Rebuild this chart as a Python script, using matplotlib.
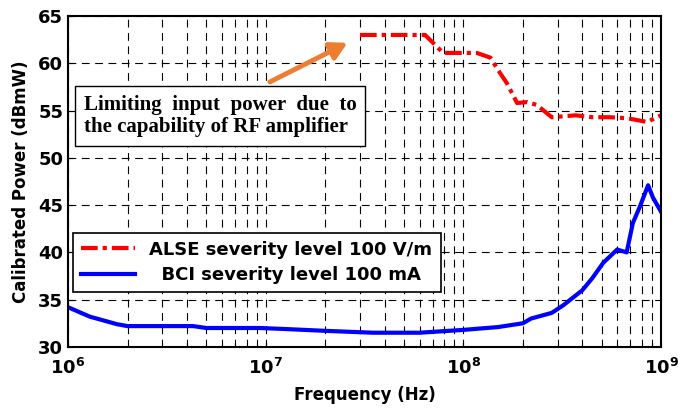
import matplotlib
matplotlib.use('Agg')
import matplotlib.pyplot as plt
import numpy as np

plt.rcParams['font.family'] = ['DejaVu Sans']
plt.rcParams['font.weight'] = 'bold'
plt.rcParams['mathtext.fontset'] = 'dejavusans'
plt.rcParams['mathtext.default'] = 'bf'

# ALSE curve (red, dash-dot)
alse_freq = [3.0e7, 6.4e7, 7.0e7, 7.9e7, 1.17e8, 1.37e8, 1.53e8, 1.66e8, 1.87e8,
             2.1e8, 2.35e8, 2.8e8, 3.7e8, 4.5e8, 5.5e8, 6.7e8, 8.5e8, 1.0e9]
alse_power = [63.0, 63.0, 62.2, 61.1, 61.1, 60.6, 59.0, 57.9, 55.8,
              55.9, 55.6, 54.3, 54.5, 54.3, 54.3, 54.2, 53.8, 54.5]

# BCI curve (blue, solid)
bci_freq = [1.0e6, 1.29e6, 1.77e6, 2.0e6, 4.3e6, 5.0e6, 9.3e6, 1.23e7, 2.0e7, 3.5e7,
            6.0e7, 1.0e8, 1.5e8, 2.0e8, 2.2e8, 2.8e8, 3.2e8, 4.0e8, 4.5e8, 5.1e8,
            6.0e8, 6.7e8, 7.2e8, 7.8e8, 8.6e8, 9.1e8, 1.0e9]
bci_power = [34.2, 33.2, 32.4, 32.2, 32.2, 32.0, 32.0, 31.9, 31.7, 31.5,
             31.5, 31.8, 32.1, 32.5, 33.0, 33.6, 34.4, 36.0, 37.3, 38.9,
             40.3, 40.0, 43.1, 44.8, 47.1, 45.8, 44.3]

xticks = [1e6, 1e7, 1e8, 1e9]
xtick_labels = [r'$10^{6}$', r'$10^{7}$', r'$10^{8}$', r'$10^{9}$']
yticks = [30, 35, 40, 45, 50, 55, 60, 65]

fig = plt.figure(figsize=(6.78, 4.12), dpi=100)
ax = fig.add_axes([0.1003, 0.158, 0.8747, 0.803])

ax.plot(alse_freq, alse_power, color='red', linestyle=(0, (4, 1.2, 1, 1.2)),
        linewidth=3, label='ALSE severity level 100 V/m')
ax.plot(bci_freq, bci_power, color='blue', linewidth=3,
        label='  BCI severity level 100 mA')

ax.set_xscale('log')
ax.set_xlim(1e6, 1e9)
ax.set_ylim(30, 65)
ax.set_xticks(xticks, xtick_labels)
ax.set_yticks(yticks)
ax.tick_params(axis='both', which='both', direction='in', labelsize=13)
ax.tick_params(axis='x', pad=8)
ax.grid(True, which='major', color='black', linestyle=(0, (7, 5)), linewidth=0.8)
ax.grid(True, which='minor', axis='x', color='black', linestyle=(0, (7, 5)), linewidth=0.8)
for s in ax.spines.values():
    s.set_linewidth(1.5)

ax.set_xlabel('Frequency (Hz)', fontsize=12, fontweight='bold', labelpad=6)
ax.set_ylabel('Calibrated Power (dBmW)', fontsize=12, fontweight='bold', labelpad=6)

leg = ax.legend(loc='lower left', bbox_to_anchor=(0.008, 0.166), fontsize=13,
                frameon=True, fancybox=False, edgecolor='black', framealpha=1,
                handlelength=3.0, borderpad=0.45, labelspacing=0.4, borderaxespad=0)
leg.get_frame().set_linewidth(1.2)
for t in leg.get_texts():
    t.set_fontweight('bold')

# note box with arrow
ax.annotate('', xy=(2.67e7, 62.3), xytext=(1.02e7, 57.9),
            arrowprops=dict(arrowstyle='-|>,head_length=1.0,head_width=0.55',
                            color='#ED7D31', lw=3.5))
ax.text(1.2e6, 54.4, 'Limiting  input  power  due  to\nthe capability of RF amplifier',
        family='Liberation Serif', fontsize=15, fontweight='bold', va='center',
        linespacing=1.15,
        bbox=dict(boxstyle='square,pad=0.42', facecolor='white', edgecolor='black', linewidth=1))

plt.savefig('out.png', dpi=100)
